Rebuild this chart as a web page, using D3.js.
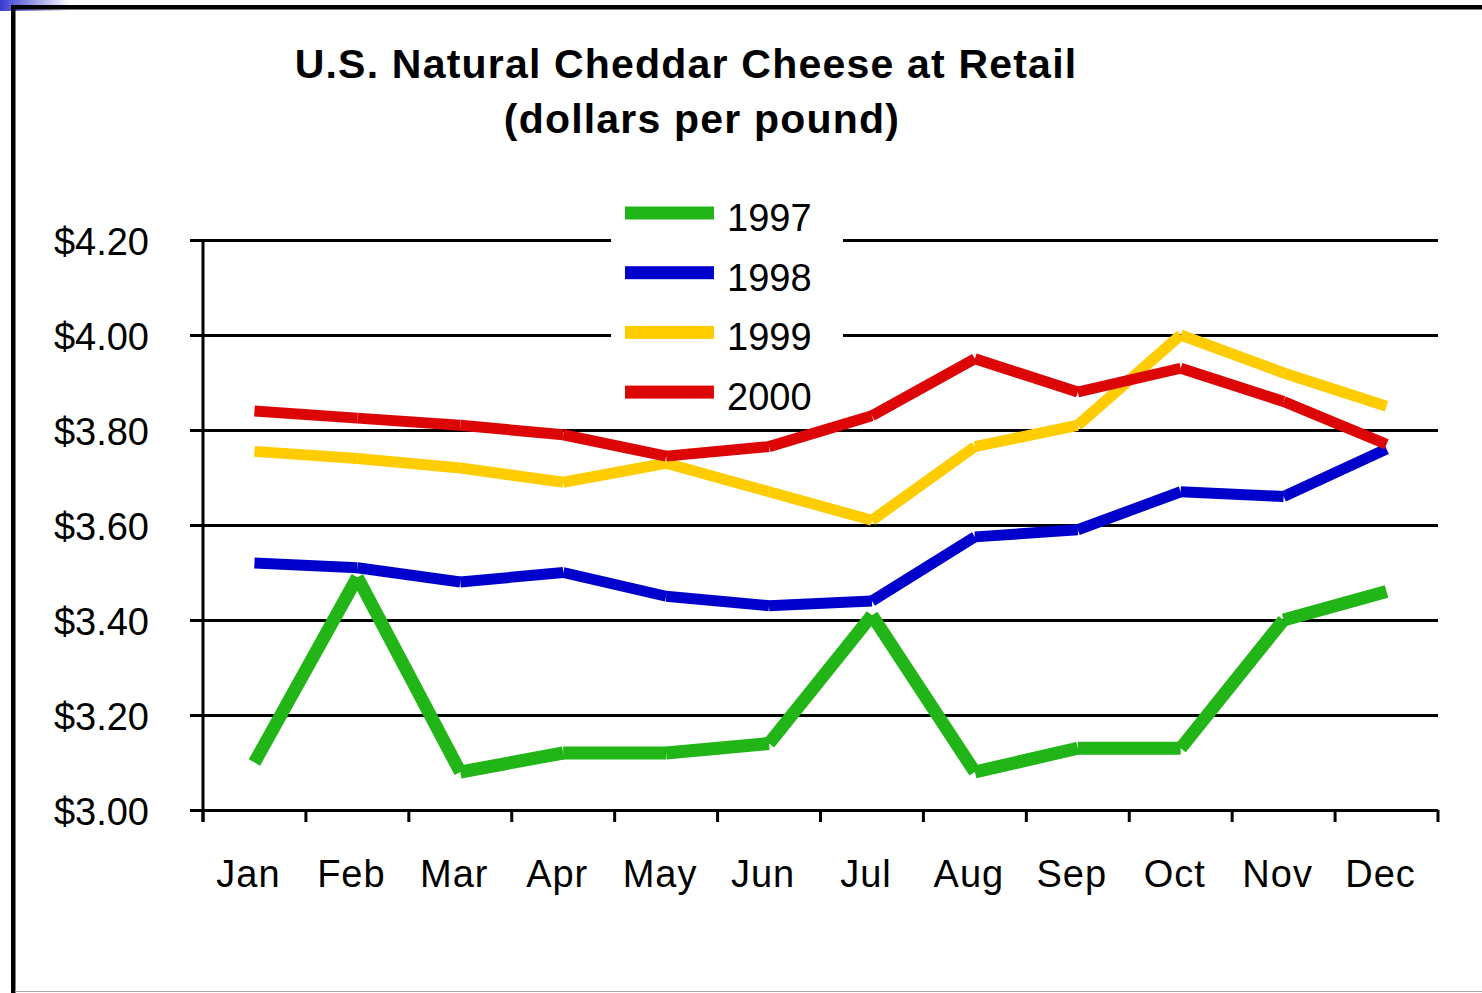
<!DOCTYPE html>
<html>
<head>
<meta charset="utf-8">
<script src="https://cdn.jsdelivr.net/npm/d3@7"></script>
<style>
  body { margin: 0; background: #fff; }
  text { font-family: "Liberation Sans", Arial, sans-serif; }
</style>
</head>
<body>
<div id="chart"></div>
<script>
// data
var months = ["Jan","Feb","Mar","Apr","May","Jun","Jul","Aug","Sep","Oct","Nov","Dec"];
var y1997 = [3.10, 3.49, 3.08, 3.12, 3.12, 3.14, 3.41, 3.08, 3.13, 3.13, 3.40, 3.46];
var y1998 = [3.52, 3.51, 3.48, 3.50, 3.45, 3.43, 3.44, 3.575, 3.59, 3.67, 3.66, 3.76];
var y1999 = [3.755, 3.74, 3.72, 3.69, 3.73, 3.67, 3.61, 3.765, 3.81, 4.00, 3.92, 3.85];
var y2000 = [3.84, 3.825, 3.81, 3.79, 3.745, 3.765, 3.83, 3.95, 3.88, 3.93, 3.86, 3.77];
var yTicks = [3.00, 3.20, 3.40, 3.60, 3.80, 4.00, 4.20];

var series = [
  {name: "1997", values: y1997, color: "#21b518", width: 13},
  {name: "1998", values: y1998, color: "#0000cc", width: 11},
  {name: "1999", values: y1999, color: "#ffcc00", width: 11},
  {name: "2000", values: y2000, color: "#dd0606", width: 11}
];

var W = 1482, H = 993;
var margin = {top: 240, right: 44, bottom: 183, left: 203},
    width = W - margin.left - margin.right,
    height = H - margin.top - margin.bottom;

var svg = d3.select("#chart")
  .append("svg")
    .attr("width", W)
    .attr("height", H);

// slide frame
var grad = svg.append("defs").append("linearGradient")
    .attr("id", "corner").attr("x1", 0).attr("x2", 1);
grad.append("stop").attr("offset", 0).attr("stop-color", "#3a3ad0");
grad.append("stop").attr("offset", 1).attr("stop-color", "#ffffff");
svg.append("rect").attr("x", 0).attr("y", 0).attr("width", 70).attr("height", 11).attr("fill", "url(#corner)");
svg.append("rect").attr("x", 11).attr("y", 5).attr("width", W - 11).attr("height", 4.5).attr("fill", "#000");
svg.append("rect").attr("x", 11).attr("y", 5).attr("width", 4.5).attr("height", H - 5).attr("fill", "#000");
svg.append("line").attr("x1", 15).attr("x2", W).attr("y1", 991.5).attr("y2", 991.5)
    .attr("stroke", "#aaa").attr("stroke-width", 1);

var g = svg.append("g")
    .attr("transform", "translate(" + margin.left + "," + margin.top + ")");

var x = d3.scaleBand()
    .domain(months)
    .range([0, width]);

var y = d3.scaleLinear()
    .domain([3.0, 4.2])
    .range([height, 0]);

// horizontal gridlines with left ticks
g.append("g")
  .call(d3.axisLeft(y).tickValues(yTicks).tickSize(-width).tickSizeOuter(0)
        .tickFormat(function(d) { return "$" + d.toFixed(2); }))
  .call(function(a) {
    a.select(".domain").remove();
    a.selectAll(".tick line").attr("x1", -13).attr("stroke", "#000").attr("stroke-width", 3);
    a.selectAll(".tick text").attr("x", -54).attr("dy", "0.38em")
      .style("font-size", "38px").attr("fill", "#000");
  });

// vertical axis line
g.append("line")
    .attr("x1", 0).attr("x2", 0).attr("y1", 0).attr("y2", height + 12)
    .attr("stroke", "#000").attr("stroke-width", 3);

// x axis ticks at band edges
var edges = months.map(function(m) { return x(m); }).concat([width]);
g.selectAll(".xtick")
  .data(edges)
  .enter().append("line")
    .attr("x1", function(d) { return d; })
    .attr("x2", function(d) { return d; })
    .attr("y1", height).attr("y2", height + 12)
    .attr("stroke", "#000").attr("stroke-width", 3);

g.selectAll(".mlabel")
  .data(months)
  .enter().append("text")
    .attr("x", function(d) { return x(d) + x.bandwidth() / 2 - 6; })
    .attr("y", height + 77)
    .attr("text-anchor", "middle")
    .style("font-size", "38px")
    .style("letter-spacing", "1px")
    .text(function(d) { return d; });

// lines, drawn segment by segment
series.forEach(function(s) {
  var segs = d3.pairs(s.values.map(function(v, i) { return [months[i], v]; }));
  g.append("g").selectAll("line")
    .data(segs)
    .enter().append("line")
      .attr("x1", function(d) { return x(d[0][0]) + x.bandwidth() / 2; })
      .attr("y1", function(d) { return y(d[0][1]); })
      .attr("x2", function(d) { return x(d[1][0]) + x.bandwidth() / 2; })
      .attr("y2", function(d) { return y(d[1][1]); })
      .attr("stroke", s.color)
      .attr("stroke-width", s.width)
      .attr("stroke-linecap", "butt");
});

// legend
var legend = svg.append("g");
legend.append("rect")
    .attr("x", 611).attr("y", 190).attr("width", 232).attr("height", 228)
    .attr("fill", "#fff");
series.forEach(function(s, i) {
  var ly = 213 + i * 59.7;
  legend.append("rect")
      .attr("x", 625).attr("y", ly - 6.5).attr("width", 89).attr("height", 13)
      .attr("fill", s.color);
  legend.append("text")
      .attr("x", 727).attr("y", ly + 18)
      .style("font-size", "38px")
      .text(s.name);
});

// title
svg.append("text")
    .attr("x", 686).attr("y", 78)
    .attr("text-anchor", "middle")
    .style("font-size", "41px").style("font-weight", "bold").style("letter-spacing", "1.2px")
    .text("U.S. Natural Cheddar Cheese at Retail");
svg.append("text")
    .attr("x", 702).attr("y", 133)
    .attr("text-anchor", "middle")
    .style("font-size", "41px").style("font-weight", "bold").style("letter-spacing", "1.2px")
    .text("(dollars per pound)");
</script>
</body>
</html>
